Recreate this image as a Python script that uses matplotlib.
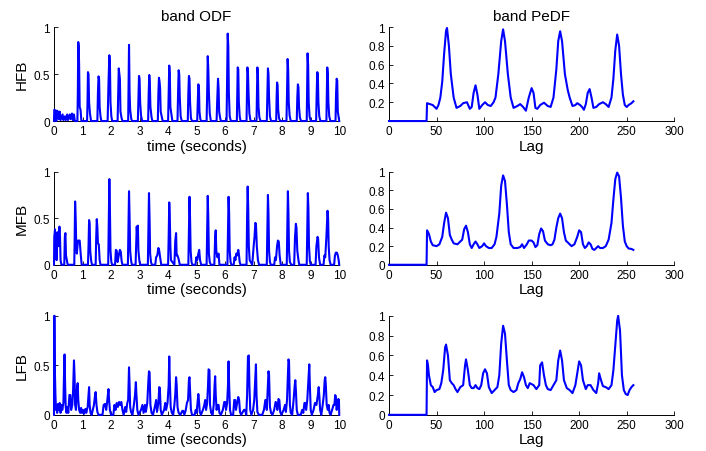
import matplotlib
matplotlib.use("Agg")
import matplotlib.pyplot as plt

plt.rcParams['font.family'] = ['Liberation Sans', 'DejaVu Sans']

# ---- onset detection functions, vertices of each spike (time in s, value) ----
hfb_time = [0, 0.01, 0.06, 0.08, 0.1, 0.14, 0.17, 0.2, 0.23, 0.3, 0.33, 0.38, 0.41, 0.46, 0.49, 0.55, 0.58, 0.63, 0.66, 0.7, 0.73,
            0.82, 0.835, 0.85, 0.865, 0.88, 0.9, 0.93, 0.96,
            1.16, 1.175, 1.19, 1.21, 1.23, 1.26, 1.3,
            1.52, 1.54, 1.56, 1.58, 1.6, 1.63, 1.66,
            1.88, 1.91, 1.94, 1.96, 1.98, 2.01, 2.04,
            2.23, 2.25, 2.27, 2.29, 2.31, 2.33, 2.37, 2.4,
            2.6, 2.615, 2.63, 2.65, 2.67, 2.71, 2.74,
            2.94, 2.96, 2.98, 3.0, 3.02, 3.05, 3.09,
            3.3, 3.32, 3.34, 3.36, 3.38, 3.42, 3.45,
            3.64, 3.66, 3.68, 3.7, 3.72, 3.74, 3.78, 3.81,
            4.0, 4.02, 4.04, 4.06, 4.08, 4.12, 4.15,
            4.33, 4.35, 4.37, 4.39, 4.41, 4.44, 4.48,
            4.69, 4.71, 4.73, 4.75, 4.77, 4.8, 4.84,
            5.02, 5.04, 5.06, 5.08, 5.1, 5.13, 5.16,
            5.35, 5.37, 5.39, 5.41, 5.43, 5.46, 5.5,
            5.7, 5.72, 5.75, 5.77, 5.79, 5.82, 5.85,
            6.05, 6.07, 6.09, 6.11, 6.13, 6.16, 6.2,
            6.41, 6.425, 6.44, 6.46, 6.48, 6.51, 6.54,
            6.75, 6.765, 6.78, 6.8, 6.82, 6.85, 6.89,
            7.1, 7.115, 7.13, 7.15, 7.17, 7.2, 7.24,
            7.46, 7.48, 7.5, 7.52, 7.54, 7.57, 7.61,
            7.79, 7.805, 7.82, 7.84, 7.86, 7.89, 7.93,
            8.15, 8.17, 8.19, 8.21, 8.23, 8.26, 8.3,
            8.51, 8.53, 8.55, 8.57, 8.59, 8.62, 8.66,
            8.86, 8.875, 8.89, 8.91, 8.93, 8.96, 9.0,
            9.19, 9.21, 9.23, 9.25, 9.27, 9.3, 9.34,
            9.55, 9.565, 9.58, 9.6, 9.62, 9.65, 9.69,
            9.87, 9.89, 9.91, 9.93, 9.95, 9.97, 10.0]
hfb_value = [0, 0.12, 0.11, 0, 0.11, 0.1, 0.02, 0.1, 0.01, 0.07, 0.01, 0.05, 0.01, 0.07, 0.01, 0.07, 0.02, 0.08, 0.01, 0.07, 0,
             0, 0.3, 0.84, 0.8, 0.6, 0.15, 0.12, 0,
             0, 0.2, 0.52, 0.5, 0.2, 0.08, 0,
             0, 0.3, 0.475, 0.45, 0.15, 0.05, 0,
             0, 0.4, 0.7, 0.62, 0.2, 0.05, 0,
             0, 0.3, 0.56, 0.5, 0.45, 0.1, 0.03, 0,
             0, 0.4, 0.81, 0.3, 0.12, 0.02, 0,
             0, 0.25, 0.48, 0.45, 0.2, 0.06, 0,
             0, 0.3, 0.49, 0.4, 0.15, 0.04, 0,
             0, 0.3, 0.46, 0.42, 0.35, 0.1, 0.04, 0,
             0, 0.3, 0.59, 0.5, 0.15, 0.06, 0,
             0, 0.3, 0.54, 0.5, 0.25, 0.05, 0,
             0, 0.3, 0.48, 0.45, 0.2, 0.03, 0,
             0, 0.2, 0.39, 0.37, 0.1, 0.02, 0,
             0, 0.3, 0.69, 0.55, 0.3, 0.08, 0,
             0, 0.2, 0.45, 0.35, 0.1, 0.04, 0,
             0, 0.5, 0.93, 0.8, 0.3, 0.05, 0,
             0, 0.3, 0.57, 0.55, 0.2, 0.05, 0,
             0, 0.3, 0.57, 0.52, 0.3, 0.08, 0,
             0, 0.3, 0.57, 0.5, 0.15, 0.04, 0,
             0, 0.3, 0.56, 0.5, 0.25, 0.05, 0,
             0, 0.25, 0.41, 0.38, 0.12, 0.03, 0,
             0, 0.3, 0.66, 0.55, 0.2, 0.06, 0,
             0, 0.25, 0.39, 0.36, 0.15, 0.04, 0,
             0, 0.4, 0.72, 0.6, 0.2, 0.05, 0,
             0, 0.3, 0.52, 0.5, 0.2, 0.05, 0,
             0, 0.3, 0.57, 0.5, 0.2, 0.05, 0,
             0, 0.3, 0.45, 0.43, 0.1, 0.06, 0]

mfb_time = [0, 0.01, 0.035, 0.05, 0.07, 0.09, 0.12, 0.15, 0.19, 0.21, 0.23, 0.26, 0.36, 0.38, 0.4, 0.42, 0.45, 0.48,
            0.71, 0.725, 0.74, 0.76, 0.78, 0.8, 0.84, 0.9, 0.94, 0.97,
            1.19, 1.21, 1.23, 1.25, 1.27, 1.3, 1.33,
            1.46, 1.48, 1.5, 1.52, 1.54, 1.57, 1.6, 1.63,
            1.9, 1.92, 1.94, 1.96, 1.98, 2.01, 2.04,
            2.14, 2.17, 2.2, 2.23, 2.27, 2.31, 2.34, 2.37, 2.4,
            2.59, 2.61, 2.63, 2.65, 2.67, 2.7, 2.73,
            2.86, 2.88, 2.9, 2.92, 2.94, 2.96, 2.99, 3.02,
            3.29, 3.31, 3.33, 3.35, 3.37, 3.4, 3.43,
            3.55, 3.58, 3.62, 3.66, 3.69, 3.72, 3.76,
            4.0, 4.02, 4.04, 4.06, 4.08, 4.1, 4.22, 4.25, 4.28, 4.3, 4.33, 4.37, 4.41,
            4.71, 4.73, 4.75, 4.77, 4.79, 4.82, 4.85,
            4.96, 4.99, 5.02, 5.06, 5.09, 5.12, 5.16,
            5.35, 5.37, 5.39, 5.41, 5.43, 5.46, 5.5, 5.62, 5.65, 5.67, 5.69, 5.73, 5.77, 5.8,
            6.08, 6.1, 6.12, 6.14, 6.16, 6.19, 6.22,
            6.3, 6.33, 6.36, 6.39, 6.42, 6.46, 6.48, 6.51, 6.54,
            6.75, 6.77, 6.79, 6.81, 6.83, 6.86, 6.95, 7.0, 7.03, 7.06, 7.08, 7.11, 7.15, 7.19,
            7.46, 7.48, 7.5, 7.52, 7.54, 7.57, 7.6,
            7.72, 7.75, 7.78, 7.82, 7.85, 7.88, 7.91, 7.95,
            8.16, 8.18, 8.2, 8.22, 8.24, 8.27, 8.32, 8.42, 8.45, 8.48, 8.5, 8.53, 8.57, 8.6,
            8.86, 8.88, 8.9, 8.92, 8.94, 8.97, 9.0, 9.17, 9.2, 9.24, 9.26, 9.29, 9.33,
            9.45, 9.48, 9.51, 9.55, 9.59, 9.61, 9.63, 9.66, 9.7,
            9.82, 9.85, 9.88, 9.92, 9.95, 9.98, 10.0]
mfb_value = [0, 0.3, 0.38, 0.1, 0.25, 0.05, 0.35, 0.2, 0.41, 0.3, 0.05, 0, 0, 0.3, 0.34, 0.1, 0.05, 0,
             0, 0.3, 0.68, 0.5, 0.2, 0.12, 0.26, 0.26, 0.1, 0,
             0, 0.2, 0.48, 0.44, 0.15, 0.05, 0,
             0, 0.3, 0.49, 0.4, 0.23, 0.22, 0.05, 0,
             0, 0.5, 0.92, 0.6, 0.15, 0.03, 0,
             0, 0.16, 0.15, 0.03, 0.1, 0.16, 0.14, 0.04, 0,
             0, 0.4, 0.79, 0.5, 0.15, 0.05, 0,
             0, 0.2, 0.41, 0.3, 0.42, 0.15, 0.05, 0,
             0, 0.4, 0.77, 0.5, 0.12, 0.03, 0,
             0, 0.08, 0.1, 0.18, 0.15, 0.08, 0,
             0, 0.3, 0.67, 0.5, 0.2, 0.05, 0, 0.25, 0.34, 0.1, 0.1, 0.06, 0,
             0, 0.4, 0.73, 0.5, 0.15, 0.03, 0,
             0, 0.08, 0.05, 0.12, 0.16, 0.05, 0,
             0, 0.4, 0.74, 0.5, 0.12, 0.03, 0, 0, 0.3, 0.37, 0.15, 0.08, 0.12, 0,
             0, 0.4, 0.73, 0.55, 0.15, 0.03, 0,
             0, 0.08, 0.05, 0.12, 0.1, 0.16, 0.12, 0.03, 0,
             0, 0.5, 0.84, 0.6, 0.2, 0.05, 0, 0.2, 0.3, 0.45, 0.44, 0.2, 0.05, 0,
             0, 0.4, 0.75, 0.55, 0.15, 0.03, 0,
             0, 0.08, 0.05, 0.2, 0.26, 0.25, 0.1, 0,
             0, 0.4, 0.79, 0.55, 0.15, 0.03, 0, 0, 0.3, 0.44, 0.4, 0.15, 0.05, 0,
             0, 0.4, 0.77, 0.6, 0.2, 0.04, 0, 0, 0.2, 0.3, 0.28, 0.08, 0,
             0, 0.1, 0.08, 0.3, 0.58, 0.5, 0.2, 0.05, 0,
             0, 0.1, 0.13, 0.13, 0.1, 0.05, 0]

lfb_time = [0, 0.005, 0.02, 0.03, 0.05, 0.07, 0.09, 0.11, 0.14, 0.17, 0.2, 0.23, 0.26, 0.29, 0.33, 0.35, 0.37, 0.39,
            0.41, 0.44, 0.47, 0.5, 0.54, 0.57, 0.6, 0.64, 0.67, 0.7, 0.72, 0.74, 0.77, 0.8, 0.83, 0.85, 0.88, 0.92,
            0.95, 0.98, 1.02, 1.05, 1.1, 1.13, 1.18, 1.21, 1.23, 1.25, 1.28, 1.32, 1.4, 1.44, 1.46, 1.49, 1.52, 1.56,
            1.7, 1.74, 1.79, 1.83, 1.87, 1.91, 1.93, 1.96, 2.0, 2.08, 2.12, 2.16, 2.2, 2.24, 2.28, 2.32, 2.36, 2.4,
            2.44, 2.5, 2.53, 2.57, 2.6, 2.63, 2.65, 2.67, 2.7, 2.75, 2.8, 2.84, 2.87, 2.89, 2.92, 2.96, 3.05, 3.1,
            3.14, 3.19, 3.22, 3.27, 3.31, 3.33, 3.35, 3.38, 3.42, 3.47, 3.55, 3.58, 3.61, 3.66, 3.69, 3.71, 3.74,
            3.78, 3.86, 3.9, 3.93, 3.98, 4.02, 4.04, 4.06, 4.09, 4.13, 4.18, 4.22, 4.25, 4.28, 4.3, 4.33, 4.37, 4.43,
            4.5, 4.53, 4.57, 4.62, 4.66, 4.7, 4.73, 4.75, 4.77, 4.8, 4.84, 4.93, 4.97, 5.0, 5.03, 5.06, 5.08, 5.11,
            5.15, 5.22, 5.27, 5.3, 5.33, 5.37, 5.4, 5.42, 5.45, 5.47, 5.51, 5.56, 5.6, 5.63, 5.65, 5.67, 5.7, 5.74,
            5.77, 5.8, 5.85, 5.92, 5.97, 6.0, 6.03, 6.07, 6.1, 6.12, 6.14, 6.17, 6.21, 6.28, 6.32, 6.35, 6.38, 6.42,
            6.46, 6.49, 6.52, 6.56, 6.66, 6.7, 6.74, 6.77, 6.8, 6.83, 6.85, 6.88, 6.92, 6.98, 7.02, 7.06, 7.08, 7.1,
            7.13, 7.18, 7.3, 7.36, 7.41, 7.43, 7.46, 7.5, 7.52, 7.54, 7.57, 7.61, 7.66, 7.72, 7.77, 7.8, 7.83, 7.87,
            7.9, 7.93, 7.97, 8.05, 8.1, 8.13, 8.17, 8.2, 8.22, 8.24, 8.27, 8.3, 8.35, 8.4, 8.44, 8.46, 8.48, 8.51,
            8.55, 8.65, 8.7, 8.74, 8.78, 8.81, 8.84, 8.88, 8.93, 8.95, 8.97, 9.0, 9.04, 9.1, 9.15, 9.2, 9.25, 9.28,
            9.3, 9.33, 9.37, 9.42, 9.46, 9.49, 9.51, 9.53, 9.56, 9.6, 9.63, 9.66, 9.7, 9.75, 9.8, 9.83, 9.86, 9.88,
            9.91, 9.94, 9.97, 9.99, 10.0]
lfb_value = [0, 1.0, 1.0, 0.45, 0.2, 0.05, 0.1, 0.02, 0.11, 0.05, 0.12, 0.02, 0.1, 0.05, 0.12, 0.4, 0.61, 0.3,
             0.08, 0.02, 0.08, 0.02, 0.2, 0.2, 0.05, 0.1, 0.25, 0.55, 0.4, 0.1, 0.05, 0.25, 0.32, 0.15, 0.05, 0.02,
             0.07, 0.02, 0.05, 0.01, 0.06, 0.02, 0.08, 0.2, 0.28, 0.1, 0.02, 0, 0.1, 0.2, 0.23, 0.1, 0.03, 0,
             0, 0.1, 0.11, 0.05, 0.15, 0.26, 0.15, 0.05, 0, 0, 0.1, 0.05, 0.12, 0.08, 0.13, 0.1, 0.13, 0.05,
             0, 0.08, 0.03, 0.12, 0.15, 0.48, 0.3, 0.08, 0.03, 0, 0.1, 0.2, 0.33, 0.2, 0.05, 0, 0.05, 0.1,
             0.02, 0.1, 0.03, 0.12, 0.35, 0.44, 0.43, 0.1, 0.02, 0, 0.1, 0.15, 0.03, 0.12, 0.28, 0.27, 0.05,
             0, 0.05, 0.12, 0.05, 0.12, 0.3, 0.59, 0.35, 0.08, 0.02, 0, 0.1, 0.2, 0.38, 0.3, 0.08, 0.02, 0,
             0.04, 0.04, 0, 0.05, 0.12, 0.15, 0.35, 0.38, 0.25, 0.05, 0, 0, 0.05, 0.02, 0.12, 0.21, 0.15, 0.03,
             0, 0.05, 0.1, 0.15, 0.05, 0.12, 0.3, 0.46, 0.45, 0.1, 0.02, 0, 0.1, 0.3, 0.39, 0.2, 0.05, 0.1,
             0.1, 0.02, 0, 0.05, 0.13, 0.13, 0.05, 0.12, 0.3, 0.54, 0.3, 0.05, 0, 0, 0.15, 0.15, 0.05, 0.12,
             0.18, 0.15, 0.03, 0, 0.05, 0.05, 0, 0.2, 0.59, 0.6, 0.3, 0.05, 0, 0.05, 0.15, 0.4, 0.51, 0.2,
             0.03, 0, 0, 0.05, 0.15, 0.15, 0.05, 0.3, 0.44, 0.4, 0.08, 0.02, 0, 0.05, 0.13, 0.12, 0.05, 0.16,
             0.15, 0.03, 0, 0.05, 0.1, 0.03, 0.15, 0.4, 0.56, 0.54, 0.1, 0.02, 0, 0.15, 0.3, 0.35, 0.25, 0.05,
             0, 0, 0.05, 0.02, 0.12, 0.12, 0.05, 0.15, 0.4, 0.51, 0.3, 0.05, 0, 0.05, 0.12, 0.1, 0.2, 0.28,
             0.2, 0.05, 0, 0.1, 0.2, 0.35, 0.38, 0.3, 0.1, 0.05, 0.1, 0.02, 0, 0.05, 0.1, 0.1, 0.2, 0.18,
             0.05, 0.12, 0.16, 0.15, 0]

# ---- periodicity detection functions (lag, value) ----
hfb_lag = [0, 39.5, 40, 43, 46, 48, 50, 52, 54, 56, 58, 60, 61, 63, 65, 68, 71, 75, 78, 82, 85, 87, 89, 91, 93,
           95, 98, 101, 104, 107, 110, 112, 115, 118, 120, 122, 125, 128, 131, 135, 138, 141, 144, 147, 150, 152,
           154, 156, 159, 163, 167, 170, 173, 176, 178, 180, 182, 185, 188, 190, 193, 196, 198, 201, 203, 205,
           207, 209, 211, 213, 215, 218, 221, 225, 228, 231, 234, 236, 238, 240, 242, 244, 246, 248, 250, 252,
           255, 257]
hfb_pedf = [0, 0, 0.19, 0.18, 0.17, 0.15, 0.13, 0.17, 0.25, 0.42, 0.72, 0.96, 0.99, 0.8, 0.5, 0.25, 0.14, 0.16,
            0.19, 0.2, 0.13, 0.15, 0.3, 0.38, 0.28, 0.13, 0.17, 0.2, 0.17, 0.16, 0.2, 0.25, 0.5, 0.85, 0.975,
            0.85, 0.5, 0.25, 0.14, 0.16, 0.18, 0.15, 0.11, 0.25, 0.35, 0.3, 0.14, 0.13, 0.17, 0.195, 0.16, 0.15,
            0.25, 0.55, 0.85, 0.955, 0.85, 0.5, 0.33, 0.25, 0.16, 0.17, 0.19, 0.17, 0.15, 0.12, 0.18, 0.3, 0.34,
            0.25, 0.14, 0.15, 0.18, 0.2, 0.18, 0.15, 0.25, 0.45, 0.75, 0.92, 0.8, 0.5, 0.28, 0.17, 0.15, 0.17,
            0.19, 0.21]

mfb_lag = [0, 39.5, 40, 42, 44, 46, 50, 53, 56, 58, 60, 62, 64, 66, 68, 72, 75, 77, 79, 81, 83, 85, 87, 89, 91,
           93, 95, 98, 100, 102, 105, 108, 111, 113, 116, 118, 120, 122, 124, 126, 128, 131, 135, 138, 140, 142,
           145, 147, 150, 152, 154, 156, 158, 160, 162, 164, 167, 170, 172, 174, 176, 178, 180, 182, 184, 186,
           189, 192, 195, 198, 200, 202, 204, 206, 208, 210, 212, 214, 216, 218, 220, 222, 225, 228, 231, 234,
           236, 238, 240, 242, 244, 246, 248, 250, 252, 255, 257]
mfb_pedf = [0, 0, 0.37, 0.33, 0.25, 0.21, 0.2, 0.22, 0.3, 0.45, 0.56, 0.5, 0.32, 0.27, 0.23, 0.22, 0.25, 0.27,
            0.38, 0.42, 0.35, 0.22, 0.18, 0.22, 0.25, 0.22, 0.18, 0.2, 0.23, 0.2, 0.18, 0.18, 0.22, 0.3, 0.55,
            0.85, 0.96, 0.9, 0.65, 0.35, 0.22, 0.18, 0.18, 0.19, 0.22, 0.18, 0.22, 0.26, 0.26, 0.24, 0.19, 0.21,
            0.33, 0.39, 0.36, 0.26, 0.22, 0.21, 0.22, 0.27, 0.4, 0.5, 0.55, 0.5, 0.35, 0.26, 0.23, 0.2, 0.22,
            0.3, 0.37, 0.35, 0.22, 0.18, 0.2, 0.24, 0.22, 0.17, 0.16, 0.18, 0.2, 0.18, 0.18, 0.2, 0.27, 0.45,
            0.7, 0.92, 0.99, 0.95, 0.72, 0.42, 0.25, 0.2, 0.175, 0.17, 0.16]

lfb_lag = [0, 39.5, 40, 41, 42, 44, 46, 48, 50, 53, 55, 57, 59, 60, 62, 64, 66, 68, 70, 72, 75, 78, 80, 81, 83,
           85, 87, 89, 91, 93, 95, 97, 99, 101, 103, 105, 108, 111, 114, 116, 118, 120, 122, 124, 126, 128, 131,
           134, 136, 138, 140, 142, 144, 146, 148, 150, 152, 155, 158, 159, 161, 163, 165, 167, 170, 173, 176,
           178, 180, 182, 184, 187, 190, 193, 196, 198, 200, 202, 204, 207, 209, 212, 215, 218, 220, 221, 223,
           225, 228, 231, 234, 236, 238, 240, 241, 243, 245, 247, 249, 251, 253, 255, 257]
lfb_pedf = [0, 0, 0.55, 0.5, 0.4, 0.3, 0.28, 0.23, 0.25, 0.26, 0.32, 0.45, 0.68, 0.71, 0.6, 0.35, 0.32, 0.3,
            0.26, 0.23, 0.28, 0.3, 0.5, 0.56, 0.45, 0.3, 0.27, 0.27, 0.3, 0.27, 0.26, 0.3, 0.42, 0.46, 0.42, 0.28,
            0.22, 0.25, 0.28, 0.4, 0.72, 0.9, 0.82, 0.55, 0.3, 0.25, 0.23, 0.25, 0.32, 0.36, 0.43, 0.38, 0.3,
            0.27, 0.32, 0.31, 0.3, 0.26, 0.3, 0.5, 0.53, 0.4, 0.3, 0.26, 0.25, 0.3, 0.35, 0.55, 0.65, 0.55, 0.35,
            0.27, 0.25, 0.22, 0.3, 0.42, 0.54, 0.5, 0.35, 0.26, 0.3, 0.3, 0.25, 0.22, 0.32, 0.42, 0.35, 0.29,
            0.28, 0.26, 0.3, 0.45, 0.7, 0.95, 1.0, 0.85, 0.4, 0.25, 0.21, 0.2, 0.25, 0.28, 0.3]

band_names = ['HFB', 'MFB', 'LFB']
odf_series = [(hfb_time, hfb_value), (mfb_time, mfb_value), (lfb_time, lfb_value)]
pedf_series = [(hfb_lag, hfb_pedf), (mfb_lag, mfb_pedf), (lfb_lag, lfb_pedf)]

blue = '#0000ff'
fig = plt.figure(figsize=(7.06, 4.52), dpi=100)

# axes boxes in figure fractions: [left, bottom, width, height]
rows = [(0.730, 0.208), (0.412, 0.206), (0.080, 0.219)]
cols = [0.0765, 0.551]
width = 0.404


def style(ax):
    for side in ('top', 'right'):
        ax.spines[side].set_visible(False)
    for side in ('left', 'bottom'):
        ax.spines[side].set_linewidth(0.7)
    ax.tick_params(direction='in', length=3, width=0.6, labelsize=8.5, pad=3)


for i, name in enumerate(band_names):
    bottom, height = rows[i]

    ax = fig.add_axes([cols[0], bottom, width, height])
    t, v = odf_series[i]
    ax.plot(t, v, color=blue, lw=1.5, clip_on=False, zorder=3)
    ax.set_xlim(0, 10)
    ax.set_ylim(0, 1)
    ax.set_xticks(range(0, 11))
    ax.set_yticks([0, 0.5, 1])
    ax.set_yticklabels(['0', '0.5', '1'])
    ax.set_ylabel(name, fontsize=11, labelpad=3)
    ax.set_xlabel('time (seconds)', fontsize=11, labelpad=1)
    style(ax)
    if i == 0:
        ax.set_title('band ODF', fontsize=11, pad=5)

    ax = fig.add_axes([cols[1], bottom, width, height])
    lag, p = pedf_series[i]
    ax.plot(lag, p, color=blue, lw=1.5, clip_on=False, zorder=3)
    ax.set_xlim(0, 300)
    ax.set_ylim(0, 1)
    ax.set_xticks(range(0, 301, 50))
    if i == 0:
        ax.set_yticks([0.2, 0.4, 0.6, 0.8, 1])
        ax.set_yticklabels(['0.2', '0.4', '0.6', '0.8', '1'])
        ax.set_title('band PeDF', fontsize=11, pad=5)
    else:
        ax.set_yticks([0, 0.2, 0.4, 0.6, 0.8, 1])
        ax.set_yticklabels(['0', '0.2', '0.4', '0.6', '0.8', '1'])
    ax.set_xlabel('Lag', fontsize=11, labelpad=1)
    style(ax)

fig.savefig('out.png', dpi=100)
